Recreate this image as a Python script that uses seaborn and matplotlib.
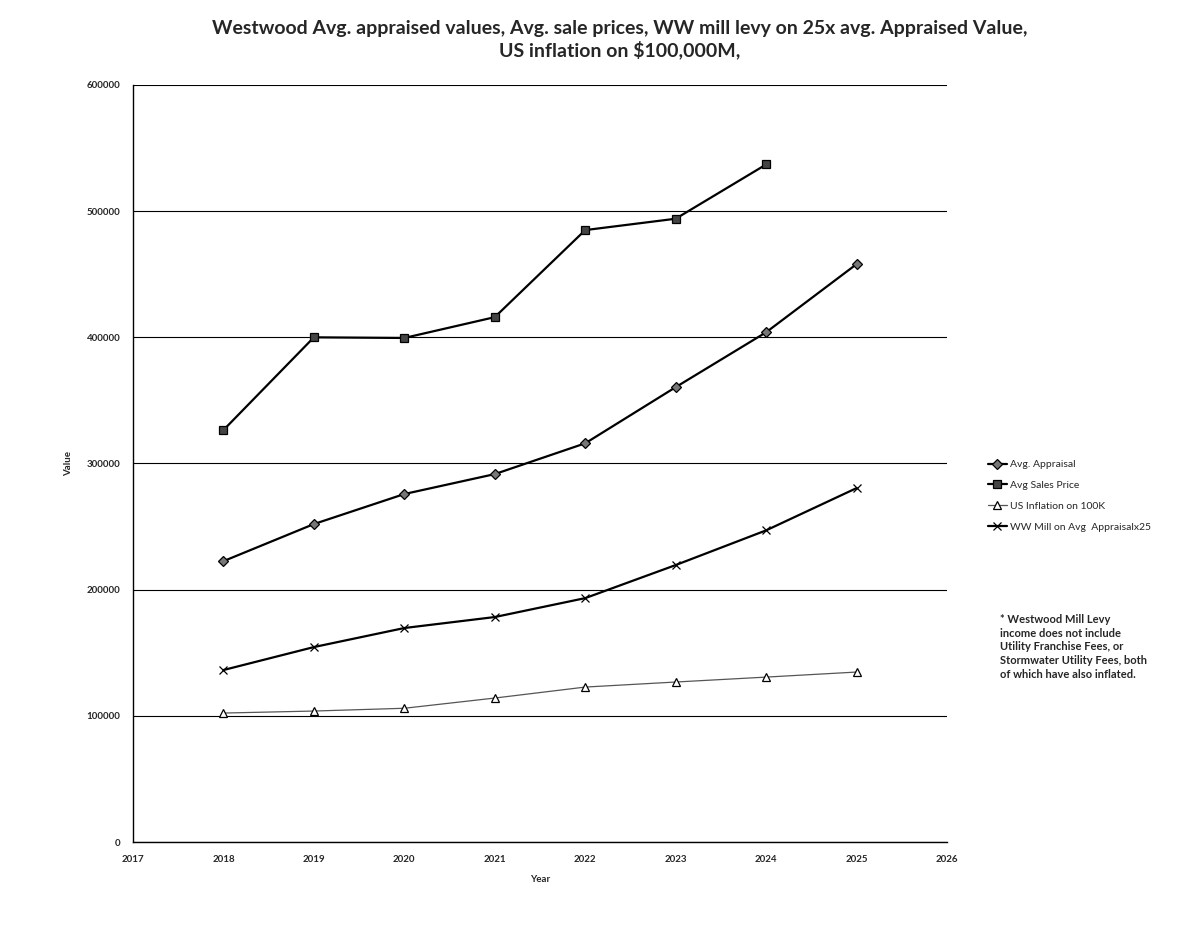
import pandas as pd
import seaborn as sns
import matplotlib.pyplot as plt
import numpy as np

# values
years = [2018, 2019, 2020, 2021, 2022, 2023, 2024, 2025]
avg_appraisal = [222600, 252000, 275800, 291600, 316000, 360500, 404000, 458000]
avg_sales_price = [326500, 400000, 399500, 416000, 485000, 494000, 537000, np.nan]
us_inflation = [102200, 103800, 106000, 114100, 122800, 126800, 130700, 134700]
ww_mill = [136300, 154500, 169600, 178300, 193300, 219500, 247000, 280500]

series_names = ['Avg. Appraisal', 'Avg Sales Price', 'US Inflation on 100K',
                'WW Mill on Avg  Appraisalx25']
y_ticks = [0, 100000, 200000, 300000, 400000, 500000, 600000]
x_ticks = list(range(2017, 2027))

title = ('Westwood Avg. appraised values, Avg. sale prices, WW mill levy on 25x avg. Appraised Value,\n'
         'US inflation on $100,000M,')
note = ('* Westwood Mill Levy\nincome does not include\nUtility Franchise Fees, or\n'
        'Stormwater Utility Fees, both\nof which have also inflated.')


def make_plot(output_path='out.png'):
    df = pd.DataFrame({'Year': years,
                       series_names[0]: avg_appraisal,
                       series_names[1]: avg_sales_price,
                       series_names[2]: us_inflation,
                       series_names[3]: ww_mill})
    long_df = df.melt(id_vars='Year', var_name='Series', value_name='Value').dropna()

    sns.set_style('white')
    plt.rcParams['font.family'] = ['Lato', 'DejaVu Sans']

    fig = plt.figure(figsize=(11.96, 9.30), dpi=100)
    ax = fig.add_axes([133 / 1196, 1 - 842 / 930, (947 - 133) / 1196, (842 - 85) / 930])

    # per-series styling (marker, face colour, line colour, width)
    styles = {
        series_names[0]: dict(marker='D', markerfacecolor='#777777', color='black', linewidth=1.6, markersize=5),
        series_names[1]: dict(marker='s', markerfacecolor='#444444', color='black', linewidth=1.6, markersize=6),
        series_names[2]: dict(marker='^', markerfacecolor='white', color='#555555', linewidth=0.9, markersize=6),
        series_names[3]: dict(marker='x', color='black', linewidth=1.6, markersize=6),
    }
    for name in series_names:
        sub = long_df[long_df['Series'] == name]
        sns.lineplot(data=sub, x='Year', y='Value', label=name, ax=ax,
                     markeredgecolor='black', markeredgewidth=0.9, **styles[name])

    ax.set_xlim(2017, 2026)
    ax.set_ylim(0, 600000)
    ax.set_xticks(x_ticks)
    ax.set_yticks(y_ticks)
    ax.tick_params(labelsize=7, length=0, pad=9)
    for lbl in ax.get_xticklabels() + ax.get_yticklabels():
        lbl.set_fontweight('bold')
    ax.yaxis.grid(True, color='black', linewidth=0.8)
    ax.xaxis.grid(False)
    for side in ['top', 'right']:
        ax.spines[side].set_visible(False)
    for side in ['left', 'bottom']:
        ax.spines[side].set_color('black')
        ax.spines[side].set_linewidth(1.0)

    ax.set_xlabel('Year', fontsize=7, fontweight='bold', labelpad=8)
    ax.set_ylabel('Value', fontsize=7, fontweight='bold', labelpad=10)

    handles, labels = ax.get_legend_handles_labels()
    ax.legend(handles, labels, loc='upper left', bbox_to_anchor=(1.045, 0.51),
              frameon=False, fontsize=7.5, handlelength=1.8, handletextpad=0.3,
              labelspacing=1.1, borderaxespad=0)

    fig.text(0.518, 0.978, title, ha='center', va='top', fontsize=14,
             fontweight='bold', linespacing=1.2)
    fig.text(1000 / 1196, 1 - 614 / 930, note, ha='left', va='top', fontsize=8,
             fontweight='bold', linespacing=1.3)

    plt.savefig(output_path, dpi=100)
    plt.close()


if __name__ == "__main__":
    make_plot()
